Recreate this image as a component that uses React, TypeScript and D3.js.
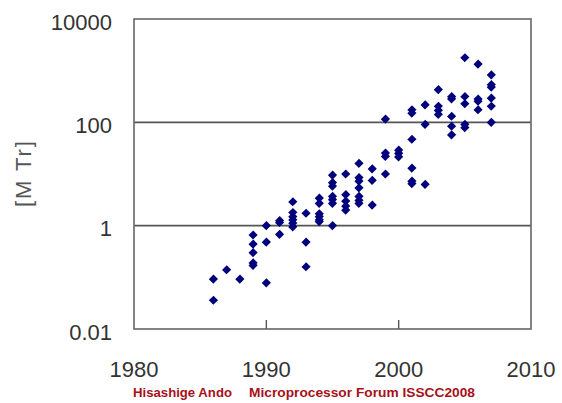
import * as d3 from "d3"

// transistor counts per microprocessor, millions of transistors
const years = [
  1986, 1986, 1987, 1988,
  1989, 1989, 1989, 1989, 1989,
  1990, 1990, 1990,
  1991, 1991, 1991,
  1992, 1992, 1992, 1992, 1992, 1992,
  1993, 1993, 1993,
  1994, 1994, 1994, 1994, 1994, 1994,
  1995, 1995, 1995, 1995, 1995, 1995, 1995,
  1996, 1996, 1996, 1996, 1996,
  1997, 1997, 1997, 1997, 1997, 1997, 1997,
  1998, 1998, 1998,
  1999, 1999, 1999, 1999,
  2000, 2000, 2000,
  2001, 2001, 2001, 2001, 2001, 2001,
  2002, 2002, 2002,
  2003, 2003, 2003, 2003,
  2004, 2004, 2004, 2004, 2004,
  2005, 2005, 2005, 2005, 2005,
  2006, 2006, 2006, 2006,
  2007, 2007, 2007, 2007, 2007, 2007,
]
const mtr = [
  0.092, 0.036, 0.14, 0.092,
  0.66, 0.44, 0.3, 0.19, 0.17,
  1.0, 0.48, 0.078,
  1.25, 1.15, 0.68,
  2.9, 1.8, 1.5, 1.3, 1.12, 0.95,
  1.74, 0.48, 0.16,
  3.4, 2.7, 1.7, 1.5, 1.3, 1.2,
  9.5, 6.8, 5.8, 3.7, 3.2, 2.7, 1.0,
  10, 4, 3, 2.4, 2,
  16, 8.5, 7.3, 5.4, 3.7, 3.1, 2.7,
  12.6, 7.5, 2.5,
  115, 25.5, 22, 10,
  29, 25, 21.5,
  175, 150, 47, 13, 7.3, 6.5,
  218, 91, 6.3,
  430, 205, 170, 142,
  316, 285, 131, 84, 57,
  1780, 316, 229, 91, 79,
  1340, 283, 256, 175,
  830, 536, 480, 295, 205, 100,
]

const yTicks = [0.01, 1, 100, 10000]
const xTicks = [1980, 1990, 2000, 2010]
const yLabel = "[M Tr]"
const credit1 = "Hisashige Ando"
const credit2 = "Microprocessor Forum ISSCC2008"

const W = 562
const H = 403
const left = 134
const right = 531
const top = 19
const bottom = 329

export default function App() {
  const x = d3.scaleLinear().domain([1980, 2010]).range([left, right])
  const y = d3.scaleLog().domain([0.01, 10000]).range([bottom, top])
  const diamond = d3.symbol().type(d3.symbolSquare).size(40)()

  const pts = years.map((yr, i) => ({ yr, v: mtr[i] }))

  return (
    <svg width={W} height={H} style={{ position: "absolute", left: 0, top: 0 }}
      fontFamily="Arial, 'Liberation Sans', sans-serif">
      <rect width={W} height={H} fill="#fff" />

      {/* gridlines at 1 and 100 */}
      {yTicks.slice(1, 3).map((t) => (
        <line key={t} x1={left} x2={right} y1={y(t)} y2={y(t)} stroke="#555" strokeWidth={1.6} />
      ))}

      {/* inner ticks on the x axis */}
      {xTicks.slice(1, 3).map((t) => (
        <line key={t} x1={x(t)} x2={x(t)} y1={bottom} y2={bottom - 9} stroke="#555" strokeWidth={1.4} />
      ))}

      <rect x={left} y={top} width={right - left} height={bottom - top}
        fill="none" stroke="#666" strokeWidth={1.6} />

      {pts.map((p, i) => (
        <path key={i} d={diamond!} fill="#00007c"
          transform={`translate(${x(p.yr)},${y(p.v)}) rotate(45) scale(1,1.05)`} />
      ))}

      {yTicks.map((t) => (
        <text key={t} x={112} y={y(t) + 3} dy="0.35em" textAnchor="end" fontSize={22}
          fill="#333">{t === 0.01 ? "0.01" : String(t)}</text>
      ))}

      {xTicks.map((t) => (
        <text key={t} x={x(t)} y={377} textAnchor="middle" fontSize={22} fill="#333">{t}</text>
      ))}

      <text transform={`translate(31,174) rotate(-90)`} textAnchor="middle" fontSize={22}
        fill="#555" textLength={66} lengthAdjust="spacing">{yLabel}</text>

      <text x={133} y={397} fontSize={12.5} fontWeight="bold" fill="#a8101a"
        textLength={99} lengthAdjust="spacingAndGlyphs">{credit1}</text>
      <text x={249} y={397} fontSize={12.5} fontWeight="bold" fill="#a8101a"
        textLength={226} lengthAdjust="spacingAndGlyphs">{credit2}</text>
    </svg>
  )
}
